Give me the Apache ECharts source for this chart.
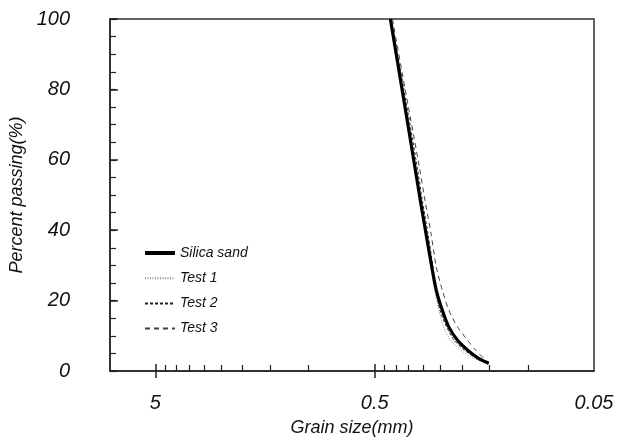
<!DOCTYPE html>
<html><head><meta charset="utf-8">
<script src="https://cdn.jsdelivr.net/npm/echarts@6/dist/echarts.min.js"></script>
<style>html,body{margin:0;padding:0;background:#fff}#c{width:631px;height:439px}</style>
</head><body><div id="c"></div>
<script>
// ---- data (grain size in mm, percent passing) ----
const seriesNames = ['Silica sand', 'Test 1', 'Test 2', 'Test 3'];
const silicaSize = [0.424, 0.375, 0.332, 0.3099, 0.2917, 0.2747, 0.262, 0.246, 0.230, 0.210, 0.189, 0.168, 0.151];
const silicaPass = [100, 80, 60, 48.6, 39, 29.6, 23, 17.3, 12.6, 8.8, 6, 3.6, 2.2];
const test1Size = [0.424, 0.375, 0.332, 0.3099, 0.2917, 0.2769, 0.267, 0.2545, 0.243, 0.2255, 0.203, 0.177, 0.151];
const test1Pass = [100, 80, 60, 48.6, 39, 29.6, 23, 17.3, 12.6, 8.8, 6, 3.6, 2.1];
const test2Size = [0.421, 0.368, 0.324, 0.3036, 0.2859, 0.2711, 0.2626, 0.252, 0.2354, 0.2174, 0.1957, 0.1716, 0.151];
const test2Pass = [100, 80, 60, 48.6, 39, 29.6, 23, 17.3, 12.6, 8.8, 6, 3.6, 2.1];
const test3Size = [0.415, 0.363, 0.317, 0.2951, 0.2769, 0.262, 0.246, 0.2296, 0.210, 0.189, 0.1735, 0.151];
const test3Pass = [100, 80, 60, 48.6, 39.1, 29.6, 23, 17.3, 12.6, 8.8, 6, 2.2];
const xLabelValues = [5, 0.5, 0.05];
const xMajorTicks = [5, 0.5];
const xMinorTicks = [4.5, 4, 3.5, 3, 2.5, 2, 1.5, 1, 0.45, 0.4, 0.35, 0.3, 0.25, 0.2, 0.15, 0.1];
const yMajorTicks = [0, 20, 40, 60, 80, 100];
const xName = 'Grain size(mm)';
const yName = 'Percent passing(%)';

const pairs = (a, b) => a.map((v, i) => [v, b[i]]);
const FONT = '"Liberation Sans", Arial, sans-serif';
const TXT = '#111';

const chart = echarts.init(document.getElementById('c'), null, {renderer: 'canvas'});
const xBase = {
  type: 'log', logBase: 10, inverse: true, min: 0.05, max: 8.05,
  position: 'bottom', offset: 0, gridIndex: 0,
  splitLine: {show: false}, minorTick: {show: false}
};
const option = {
  backgroundColor: '#fff',
  animation: false,
  grid: {left: 110, top: 19, right: 37, bottom: 68, show: true, borderColor: '#333', borderWidth: 1.5, containLabel: false, outerBoundsMode: 'none'},
  legend: {
    data: [
      {name: seriesNames[0], lineStyle: {width: 4}},
      {name: seriesNames[1]},
      {name: seriesNames[2]},
      {name: seriesNames[3]}
    ],
    orient: 'vertical', left: 143, top: 246, padding: 0,
    itemWidth: 30, itemHeight: 14, itemGap: 11.2,
    itemStyle: {opacity: 0},
    textStyle: {fontFamily: FONT, fontStyle: 'italic', fontSize: 14, color: TXT, padding: [0, 0, 0, 0]}
  },
  xAxis: [
    Object.assign({}, xBase, {
      name: xName, nameLocation: 'middle', nameGap: 48,
      nameTextStyle: {fontFamily: FONT, fontStyle: 'italic', fontSize: 18, color: TXT},
      axisLine: {show: true, lineStyle: {color: '#222', width: 1.5}},
      axisTick: {show: true, inside: true, length: 6, customValues: xMinorTicks, lineStyle: {color: '#222', width: 1.2}},
      axisLabel: {show: true, customValues: xLabelValues, margin: 22, fontFamily: FONT, fontStyle: 'italic', fontSize: 20, color: TXT,
        formatter: v => String(Number(Number(v).toPrecision(3)))}
    }),
    Object.assign({}, xBase, {
      axisLine: {show: false}, axisLabel: {show: false},
      axisTick: {show: true, inside: true, length: 7, customValues: xMajorTicks, lineStyle: {color: '#222', width: 1.5}}
    }),
    Object.assign({}, xBase, {
      axisLine: {show: false}, axisLabel: {show: false},
      axisTick: {show: true, inside: false, length: 7, customValues: xMajorTicks, lineStyle: {color: '#222', width: 1.5}}
    })
  ],
  yAxis: [
    {
      type: 'value', min: 0, max: 100, interval: 5, position: 'left',
      name: yName, nameLocation: 'middle', nameGap: 69,
      nameTextStyle: {fontFamily: FONT, fontStyle: 'italic', fontSize: 18, color: TXT},
      axisLine: {show: true, lineStyle: {color: '#222', width: 1.5}},
      axisTick: {show: true, inside: true, length: 6, lineStyle: {color: '#222', width: 1.2}},
      axisLabel: {show: true, customValues: yMajorTicks, margin: 40, fontFamily: FONT, fontStyle: 'italic', fontSize: 20, color: TXT},
      splitLine: {show: false}
    },
    {
      type: 'value', min: 0, max: 100, position: 'left', offset: 0,
      axisLine: {show: false}, axisLabel: {show: false}, splitLine: {show: false},
      axisTick: {show: true, inside: true, length: 8, customValues: yMajorTicks, lineStyle: {color: '#222', width: 1.5}}
    }
  ],
  series: [
    {name: seriesNames[0], type: 'line', data: pairs(silicaSize, silicaPass), symbol: 'none', smooth: 0.25, z: 5,
      color: '#000', lineStyle: {color: '#000', width: 3.2}},
    {name: seriesNames[1], type: 'line', data: pairs(test1Size, test1Pass), symbol: 'none', smooth: 0.25, z: 3,
      color: '#8a8a8a', lineStyle: {color: '#8a8a8a', width: 1, type: [1, 1.5]}},
    {name: seriesNames[2], type: 'line', data: pairs(test2Size, test2Pass), symbol: 'none', smooth: 0.25, z: 3,
      color: '#222', lineStyle: {color: '#222', width: 1, type: [3, 2]}},
    {name: seriesNames[3], type: 'line', data: pairs(test3Size, test3Pass), symbol: 'none', smooth: 0.25, z: 3,
      color: '#444', lineStyle: {color: '#444', width: 1, type: [5, 4]}}
  ]
};
chart.setOption(option);
</script></body></html>
